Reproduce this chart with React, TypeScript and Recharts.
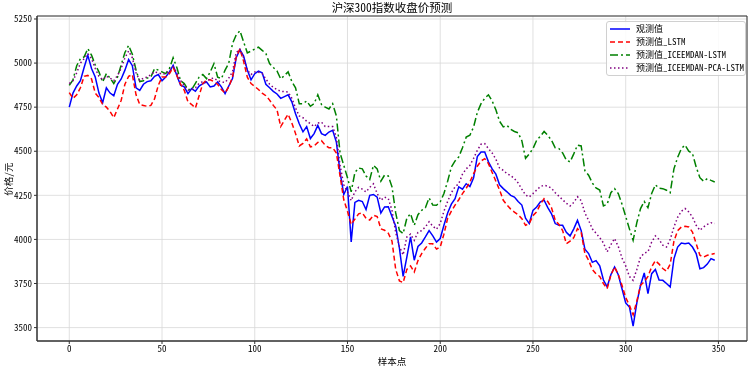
import { LineChart, Line, XAxis, YAxis, CartesianGrid, Legend, ReferenceArea } from "recharts";

// one value every 2 samples (sample 0 .. 348)
const STEP = 2;

const observed = [
  4750, 4830, 4870, 4900, 4975, 5044, 4969, 4921, 4830, 4775,
  4860, 4830, 4815, 4880, 4910, 4960, 5020, 4985, 4860, 4845,
  4880, 4895, 4900, 4925, 4935, 4900, 4921, 4950, 4988, 4930,
  4874, 4865, 4827, 4855, 4840, 4870, 4884, 4893, 4865, 4870,
  4893, 4865, 4827, 4870, 4912, 5030, 5076, 5040, 4960, 4905,
  4940, 4955, 4945, 4880, 4860, 4840, 4825, 4800, 4810, 4820,
  4780, 4713, 4656, 4610, 4640, 4572, 4600, 4647, 4600, 4590,
  4609, 4619, 4553, 4380, 4255, 4300, 3986, 4210, 4222, 4215,
  4170, 4250, 4255, 4240, 4150, 4184, 4185, 4130, 4075, 3950,
  3790, 3900, 4014, 3882, 3960, 3980, 4014, 4050, 4020, 3985,
  4005, 4080, 4150, 4200, 4231, 4298, 4285, 4316, 4300, 4350,
  4470, 4496, 4496, 4440, 4400, 4370, 4310, 4288, 4270, 4250,
  4240, 4215, 4195, 4120, 4090, 4165, 4184, 4213, 4222, 4180,
  4145, 4090, 4080, 4080, 4040, 4020, 4060, 4108, 4050, 3945,
  3920, 3870, 3880, 3850, 3770, 3731, 3800, 3844, 3800, 3720,
  3640, 3617, 3508, 3640, 3740, 3810, 3693, 3806, 3830, 3770,
  3768, 3750, 3730, 3890, 3957, 3980, 3976, 3980, 3957, 3920,
  3834, 3840, 3860, 3891, 3882,
];

const predLstm = [
  4833, 4800, 4820, 4860, 4925, 4930, 4910, 4830, 4805, 4765,
  4750, 4725, 4690, 4740, 4789, 4880, 4925, 4935, 4820, 4765,
  4760, 4755, 4760, 4798, 4874, 4921, 4921, 4940, 4975, 4930,
  4880, 4846, 4780, 4765, 4745, 4815, 4884, 4905, 4905, 4895,
  4880, 4850, 4830, 4865, 4921, 5035, 5080, 5010, 4920, 4884,
  4868, 4850, 4830, 4815, 4790, 4760, 4735, 4640, 4676, 4710,
  4660, 4600, 4530, 4545, 4570, 4525, 4530, 4550, 4560, 4534,
  4520, 4520, 4490, 4360, 4225, 4160, 4085, 4115, 4145, 4150,
  4120, 4110, 4137, 4130, 4060, 4052, 4035, 3990, 3830, 3765,
  3755, 3830, 3850, 3815, 3880, 3920, 3950, 3976, 3975, 3945,
  3957, 4030, 4120, 4160, 4195, 4225, 4260, 4290, 4326, 4373,
  4415, 4445, 4458, 4430, 4380, 4330, 4280, 4222, 4195, 4172,
  4155, 4140, 4118, 4080, 4090, 4135, 4156, 4200, 4231, 4215,
  4180, 4109, 4085, 4050, 3976, 3990, 4010, 4061, 4040, 3920,
  3882, 3830, 3805, 3790, 3749, 3721, 3797, 3844, 3800, 3740,
  3670, 3626, 3572, 3650, 3740, 3760, 3790, 3844, 3880, 3860,
  3835, 3820, 3860, 3990, 4050, 4070, 4074, 4071, 4042, 3976,
  3910, 3900, 3910, 3915, 3920,
];

const predIceemdan = [
  4874, 4905, 4985, 5025, 5035, 5082, 5045, 4990, 4950, 4893,
  4940, 4915, 4884, 4920, 4990, 5060, 5100, 5050, 4960, 4895,
  4900, 4915, 4921, 4969, 4960, 4950, 4940, 4970, 5030, 4975,
  4900, 4884, 4850, 4850, 4885, 4920, 4935, 4912, 4950, 4997,
  4920, 4912, 4960, 5000, 5110, 5160, 5183, 5120, 5058, 5068,
  5080, 5090, 5072, 5054, 4997, 4975, 4955, 4910, 4930, 4950,
  4895, 4860, 4770, 4770, 4785, 4755, 4770, 4820, 4765, 4750,
  4740, 4770, 4700, 4490, 4420, 4350, 4270, 4380, 4405, 4400,
  4360, 4340, 4420, 4400, 4330, 4365, 4360, 4298, 4150, 4050,
  4033, 4120, 4146, 4080, 4140, 4165, 4180, 4235, 4195, 4194,
  4213, 4260, 4330, 4410, 4445, 4468, 4520, 4580, 4591, 4638,
  4720, 4770, 4800, 4820, 4785, 4735, 4670, 4638, 4647, 4625,
  4612, 4605, 4560, 4460, 4485, 4515, 4562, 4585, 4612, 4590,
  4562, 4520, 4515, 4490, 4450, 4440, 4485, 4535, 4530, 4390,
  4364, 4320, 4292, 4280, 4190, 4200, 4265, 4288, 4260, 4200,
  4130, 4060, 3995, 4095, 4175, 4215, 4180, 4260, 4310, 4290,
  4288, 4279, 4265, 4400, 4465, 4515, 4535, 4500, 4487, 4411,
  4350, 4330, 4345, 4335, 4326,
];

const predPca = [
  4884, 4900, 4945, 5000, 5025, 5054, 5025, 4970, 4925, 4905,
  4925, 4915, 4900, 4930, 4970, 5030, 5068, 5030, 4945, 4900,
  4915, 4920, 4935, 4950, 4945, 4938, 4940, 4955, 4978, 4945,
  4900, 4874, 4846, 4850, 4860, 4885, 4895, 4893, 4912, 4915,
  4900, 4893, 4890, 4915, 4950, 5060, 5078, 5030, 4960, 4935,
  4950, 4948, 4940, 4910, 4880, 4862, 4850, 4840, 4838, 4836,
  4800, 4745, 4700, 4690, 4670, 4657, 4640, 4660, 4665, 4640,
  4640, 4640, 4580, 4420, 4310, 4270, 4220, 4270, 4295, 4285,
  4269, 4295, 4315, 4260, 4222, 4240, 4232, 4165, 4040, 3960,
  3912, 4014, 4030, 3995, 4040, 4050, 4071, 4100, 4075, 4058,
  4090, 4160, 4215, 4265, 4298, 4316, 4370, 4400, 4420, 4460,
  4505, 4540, 4543, 4515, 4490, 4455, 4405, 4392, 4373, 4362,
  4345, 4320, 4285, 4252, 4241, 4260, 4280, 4300, 4307, 4302,
  4290, 4265, 4245, 4225, 4205, 4190, 4210, 4242, 4220, 4150,
  4108, 4060, 4035, 4010, 3980, 3929, 3970, 4005, 3960, 3895,
  3850, 3790, 3768, 3830, 3900, 3922, 3930, 3985, 4020, 4000,
  3967, 3957, 4000, 4070, 4125, 4160, 4175, 4156, 4127, 4080,
  4052, 4071, 4085, 4095, 4090,
];

const xTicks = [0, 50, 100, 150, 200, 250, 300, 350];
const yTicks = [3500, 3750, 4000, 4250, 4500, 4750, 5000, 5250];
const xDomain = [-17.4, 365.4];
const yDomain = [3424, 5267];

const series = [
  { key: "obs", name: "观测值", color: "#0000ff", dash: undefined },
  { key: "lstm", name: "预测值_LSTM", color: "#ff0000", dash: "5 3" },
  { key: "ice", name: "预测值_ICEEMDAN-LSTM", color: "#008000", dash: "8 3 2 3" },
  { key: "pca", name: "预测值_ICEEMDAN-PCA-LSTM", color: "#800080", dash: "1.5 2.5" },
];

const data = observed.map((v, i) => ({
  sample: i * STEP,
  obs: v,
  lstm: predLstm[i],
  ice: predIceemdan[i],
  pca: predPca[i],
}));

// SimHei-like look: half-width latin next to CJK
const FONT = '"Noto Sans Mono CJK SC", "Noto Sans CJK SC", "DejaVu Sans Mono", monospace';

function LegendBox() {
  return (
    <div
      style={{
        background: "rgba(255,255,255,0.85)",
        border: "1px solid #d0d0d0",
        borderRadius: 3,
        padding: "0px 4px 1px 2px",
        fontFamily: FONT,
        fontSize: 9,
        color: "#000",
        lineHeight: "13px",
        width: 132,
      }}
    >
      {series.map((s) => (
        <div key={s.key} style={{ display: "flex", alignItems: "center", height: 13 }}>
          <svg width={22} height={6} style={{ flex: "none" }}>
            <line x1={1} y1={3} x2={21} y2={3} stroke={s.color} strokeWidth={1.5} strokeDasharray={s.dash} />
          </svg>
          <span style={{ marginLeft: 5, whiteSpace: "nowrap" }}>{s.name}</span>
        </div>
      ))}
    </div>
  );
}

export default function App() {
  const tickStyle = { fontSize: 9, fill: "#000", fontFamily: FONT };
  return (
    <div style={{ position: "fixed", left: 0, top: 0, width: 748, height: 367, background: "#fff", fontFamily: FONT }}>
      <div style={{ position: "absolute", left: 37, width: 710, top: -1, textAlign: "center", fontSize: 11.5, color: "#000" }}>
        沪深300指数收盘价预测
      </div>
      <div
        style={{
          position: "absolute",
          left: 8,
          top: 179,
          transform: "translate(-50%, -50%) rotate(-90deg)",
          fontSize: 9.5,
          whiteSpace: "nowrap",
          color: "#000",
        }}
      >
        价格/元
      </div>
      <div style={{ position: "absolute", left: 37, width: 710, top: 354, textAlign: "center", fontSize: 9.5, color: "#000" }}>
        样本点
      </div>
      <LineChart width={748} height={367} data={data} margin={{ top: 16, right: 1, bottom: 0, left: 5 }}>
        <CartesianGrid stroke="#d8d8d8" strokeWidth={0.8} vertical horizontal />
        <XAxis
          dataKey="sample"
          type="number"
          domain={xDomain}
          ticks={xTicks}
          allowDataOverflow
          height={26}
          tick={tickStyle}
          tickSize={3}
          tickMargin={2}
          stroke="#333"
        />
        <YAxis
          type="number"
          domain={yDomain}
          ticks={yTicks}
          allowDataOverflow
          width={32}
          tick={tickStyle}
          tickSize={3}
          tickMargin={2}
          stroke="#333"
        />
        <ReferenceArea x1={xDomain[0]} x2={xDomain[1]} y1={yDomain[0]} y2={yDomain[1]} fill="none" stroke="#333" strokeWidth={1} />
        {series.map((s) => (
          <Line
            key={s.key}
            dataKey={s.key}
            name={s.name}
            stroke={s.color}
            strokeWidth={1.5}
            strokeDasharray={s.dash}
            dot={false}
            activeDot={false}
            type="linear"
            isAnimationActive={false}
          />
        ))}
        <Legend
          layout="vertical"
          align="center"
          verticalAlign="middle"
          content={() => <LegendBox />}
          wrapperStyle={{ top: 21, left: 606, width: "auto", height: "auto", transform: "none" }}
        />
      </LineChart>
    </div>
  );
}
